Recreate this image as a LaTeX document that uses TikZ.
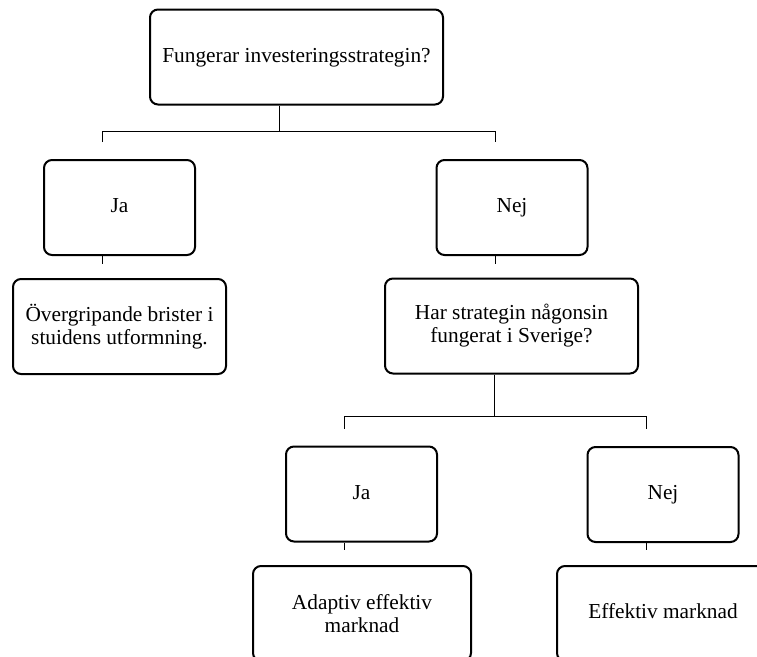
\documentclass[tikz,border=0pt]{standalone}
\usepackage{fontspec}
\setmainfont{Liberation Serif}

\begin{document}
\begin{tikzpicture}[x=0.75pt,y=-0.75pt,
	vak/.style={draw,rounded corners=6pt,line width=1.5pt,minimum height=71.25pt,inner sep=0,align=center,font=\fontsize{16}{17.25}\selectfont},
	kort/.style={vak,text height=11pt,text depth=3.5pt},
	lijn/.style={draw,line width=0.75pt},
]
\useasboundingbox (0,0) rectangle (757,657);
\node[kort,minimum width=219.75pt] (vraag) at (296.5,57) {Fungerar investeringsstrategin?};
\node[kort,minimum width=113.25pt] (ja) at (119.5,207.5) {Ja};
\node[kort,minimum width=113.25pt] (nee) at (512,207.5) {Nej};
\node[vak,minimum width=159.75pt] (brister) at (119.5,326.5) {Övergripande brister i\\ stuidens utformning.};
\node[vak,minimum width=189.75pt] (sverige) at (511.5,326) {Har strategin någonsin\\ fungerat i Sverige?};
\node[kort,minimum width=113.25pt] (jatwee) at (361.5,494) {Ja};
\node[kort,minimum width=113.25pt] (neetwee) at (663,494.5) {Nej};
\node[vak,minimum width=163.5pt] (adaptiv) at (362,613.5) {Adaptiv effektiv\\ marknad};
\node[kort,minimum width=159pt] (effektiv) at (663,613.5) {Effektiv marknad};

% eerste splitsing
\draw[lijn] ([xshift=-12.4pt]vraag.south) -- ++(0,26) coordinate (vork1);
\draw[lijn] ([xshift=-12.4pt,yshift=12.75pt]ja.north) |- (vork1) -| ([xshift=-12.4pt,yshift=12.75pt]nee.north);
\draw[lijn] ([xshift=-12.4pt]ja.south) -- ++(0,8);
\draw[lijn] ([xshift=-12.4pt]nee.south) -- ++(0,8);

% tweede splitsing
\draw[lijn] ([xshift=-12.4pt]sverige.south) -- ++(0,42) coordinate (vork2);
\draw[lijn] ([xshift=-12.4pt,yshift=12.4pt]jatwee.north) |- (vork2) -| ([xshift=-12.4pt,yshift=12.4pt]neetwee.north);
\draw[lijn] ([xshift=-12.4pt]jatwee.south) -- ++(0,7);
\draw[lijn] ([xshift=-12.4pt]neetwee.south) -- ++(0,7);

\end{tikzpicture}
\end{document}
